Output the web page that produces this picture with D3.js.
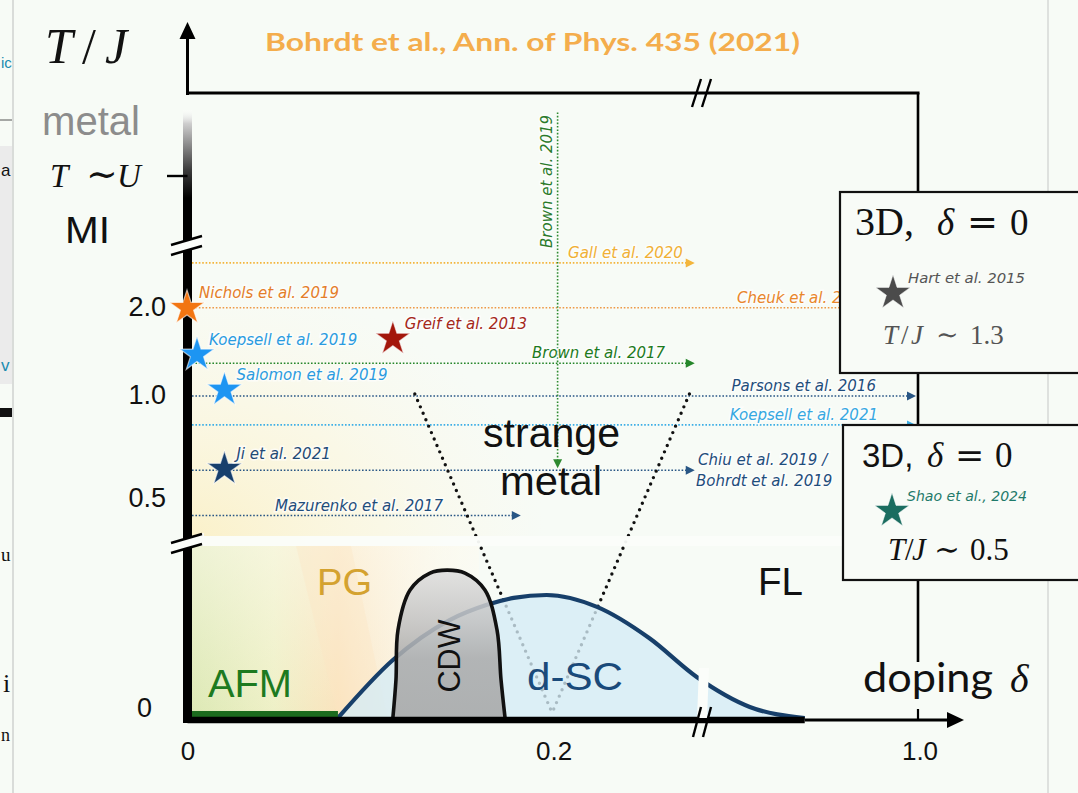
<!DOCTYPE html>
<html><head><meta charset="utf-8">
<script src="https://cdn.jsdelivr.net/npm/d3@7"></script>
<style>
html,body{margin:0;padding:0;background:#f7fbf6;}
svg{display:block;}
</style></head><body>
<svg id="chart" width="1078" height="793"></svg>
<script>
// ---- data -------------------------------------------------------------
// cold-atom experiments shown as stars: doping δ and temperature T/J
const starNames  = ["Nichols et al. 2019", "Koepsell et al. 2019", "Greif et al. 2013", "Salomon et al. 2019", "Ji et al. 2021"];
const starDoping = [0, 0.006, 0.113, 0.021, 0.021];
const starTemp   = [2.0, 1.47, 1.65, 1.07, 0.646];
const starColors = ["#f27512", "#1d95f2", "#a3170b", "#1d95f2", "#173f6c"];
const starText   = ["#e47d2a", "#2a9be0", "#a4271a", "#2a9be0", "#1f4a75"];

// experiments scanning doping at fixed temperature (dotted arrows)
const traceNames  = [["Gall et al. 2020"], ["Cheuk et al. 2020"], ["Brown et al. 2017"], ["Parsons et al. 2016"],
                     ["Koepsell et al. 2021"], ["Chiu et al. 2019 /", "Bohrdt et al. 2019"], ["Mazurenko et al. 2017"]];
const traceTemp   = [2.49, 1.98, 1.35, 0.99, 0.85, 0.63, 0.41];
const traceEnd    = [0.279, 1.0, 0.279, 1.0, 1.0, 0.279, 0.184];
const traceColors = ["#f3b53c", "#ee9a48", "#25862a", "#285685", "#3caee6", "#285685", "#285685"];
const traceText   = ["#f0b035", "#e8862c", "#1d7a1d", "#1f4d7c", "#36a8e2", "#1f4d7c", "#1f4d7c"];

// experiment scanning temperature at fixed doping
const vTraceName = "Brown et al. 2019";
const vTraceDoping = 0.203;
const vTraceTemp = [4.2, 0.64];

// d-wave superconducting dome (δ, relative T)
const scDoping = [0.083, 0.113, 0.144, 0.164, 0.179, 0.197, 0.2245, 0.253, 0.279, 0.308, 0.338];
const scTemp   = [0, 0.335, 0.566, 0.653, 0.694, 0.711, 0.642, 0.462, 0.237, 0.064, 0];

// charge density wave dome
const cdwDoping = [0.113, 0.1147, 0.1158, 0.1224, 0.1333, 0.1426, 0.1524, 0.1633, 0.1699, 0.1721, 0.1743];
const cdwTemp   = [0, 0.22, 0.509, 0.74, 0.838, 0.855, 0.838, 0.74, 0.509, 0.22, 0];

// antiferromagnet at low doping
const afmDoping = [0, 0.083];

// strange-metal fan: upper ends (T/J) and vertex (relative T)
const fanDoping = [0.125, 0.275];
const fanTopTemp = 1.0;
const fanVertex = {doping: 0.2, temp: 0.03};

// axis ticks
const yTicks = [0.5, 1.0, 2.0];
const yTickLabels = ["0.5", "1.0", "2.0"];
const xTicks = [0, 0.2, 1.0];
const xTickLabels = ["0", "0.2", "1.0"];

// 3D insets
const insetNames = ["Hart et al. 2015", "Shao et al., 2024"];
const insetTemp = ["1.3", "0.5"];
const insetColors = ["#4b4b4b", "#1b6d60"];

// ---- scales -----------------------------------------------------------
const x = d3.scaleLinear().domain([0, 0.36, 1.0]).range([186, 845, 918]);
const yT = d3.scaleLinear().domain([0.5, 1.0, 2.0]).range([497, 394, 306]);
const yLow = d3.scaleLinear().domain([0, 1]).range([718, 545]);

const svg = d3.select("#chart");
const defs = svg.append("defs");
const SANS = "'Liberation Sans', Arial, sans-serif";
const SERIF = "'Liberation Serif', 'DejaVu Serif', serif";
const OPS = "'DejaVu Serif', serif";
const LAB = "'DejaVu Sans', sans-serif";

svg.append("rect").attr("width", 1078).attr("height", 793).attr("fill", "#f7fbf6");

// edge of the neighbouring slide
const strip = svg.append("g");
strip.append("rect").attr("x", 0).attr("y", 146).attr("width", 12).attr("height", 238).attr("fill", "#ebebeb");
strip.append("line").attr("x1", 0).attr("x2", 12).attr("y1", 120).attr("y2", 120).attr("stroke", "#555").attr("stroke-width", 1);
strip.append("rect").attr("x", 0).attr("y", 408).attr("width", 12).attr("height", 9).attr("fill", "#111");
[["ic", 1, 68, "#1a8cb0", SANS, 15], ["a", 1, 176, "#111", SANS, 17], ["v", 1, 371, "#1a8cb0", SANS, 17],
 ["u", 1, 561, "#111", SERIF, 19], ["i", 3, 692, "#111", SERIF, 26], ["n", 1, 741, "#111", SERIF, 18]]
  .forEach(f => strip.append("text").text(f[0]).attr("x", f[1]).attr("y", f[2]).attr("fill", f[3])
    .attr("font-family", f[4]).attr("font-size", f[5]));
strip.append("line").attr("x1", 13).attr("x2", 13).attr("y1", 0).attr("y2", 793).attr("stroke", "#cfd2cf").attr("stroke-width", 1.5);
svg.append("line").attr("x1", 1048).attr("x2", 1048).attr("y1", 0).attr("y2", 793).attr("stroke", "#d6d9d6").attr("stroke-width", 1.5);

// ---- background shading ---------------------------------------------
const upperGrad = defs.append("radialGradient").attr("id", "upperGrad")
  .attr("gradientUnits", "userSpaceOnUse").attr("cx", x(0)).attr("cy", yLow(1)).attr("r", 360)
  .attr("gradientTransform", `translate(${x(0)},${yLow(1)}) scale(1,0.75) translate(${-x(0)},${-yLow(1)})`);
upperGrad.append("stop").attr("offset", 0).attr("stop-color", "#fbefc2").attr("stop-opacity", 0.9);
upperGrad.append("stop").attr("offset", 0.55).attr("stop-color", "#fcf6dc").attr("stop-opacity", 0.6);
upperGrad.append("stop").attr("offset", 1).attr("stop-color", "#fcf8e8").attr("stop-opacity", 0);
svg.append("rect").attr("x", x(0)).attr("y", yT(2.2)).attr("width", 420).attr("height", yLow(1) - yT(2.2))
  .attr("fill", "url(#upperGrad)");

const lowGrad = defs.append("linearGradient").attr("id", "lowGrad").attr("x1", 0).attr("x2", 1).attr("y1", 0).attr("y2", 0);
[[0, "#dbe8b3", 1], [0.3, "#eef0c6", 1], [0.52, "#fae3bd", 1], [0.7, "#fbecd2", 0.8], [1, "#fbf5e6", 0]]
  .forEach(s => lowGrad.append("stop").attr("offset", s[0]).attr("stop-color", s[1]).attr("stop-opacity", s[2]));
svg.append("rect").attr("x", x(0)).attr("y", yLow(1)).attr("width", x(0.16) - x(0)).attr("height", yLow(0) - yLow(1))
  .attr("fill", "url(#lowGrad)");
const lowFade = defs.append("linearGradient").attr("id", "lowFade").attr("x1", 0).attr("x2", 0).attr("y1", 0).attr("y2", 1);
lowFade.append("stop").attr("offset", 0).attr("stop-color", "#fdfbf0").attr("stop-opacity", 0.55);
lowFade.append("stop").attr("offset", 1).attr("stop-color", "#fdfbf0").attr("stop-opacity", 0);
svg.append("rect").attr("x", x(0)).attr("y", yLow(1)).attr("width", x(0.16) - x(0)).attr("height", yLow(0) - yLow(1))
  .attr("fill", "url(#lowFade)");
// AFM / PG crossover
svg.append("path").attr("d", d3.line()([[x(0.06), yLow(1)], [x(0.083), yLow(0)], [x(0.11), yLow(0)], [x(0.09), yLow(1)]]))
  .attr("fill", "#fbe6c4").attr("opacity", 0.35);

// ---- dotted doping traces --------------------------------------------
const traceLabelAt = [0.2087, 0.301, 0.189, 0.298, 0.297, 0.2797, 0.0486];
const tr = svg.append("g");
traceTemp.forEach((t, i) => {
  const yy = yT(t), xe = x(traceEnd[i]) - 2;
  tr.append("line").attr("x1", x(0) + 6).attr("x2", xe - 6).attr("y1", yy).attr("y2", yy)
    .attr("stroke", traceColors[i]).attr("stroke-width", 1.6).attr("stroke-dasharray", "1.6 1.8");
  tr.append("path").attr("d", `M${xe - 9},${yy - 4.5}L${xe},${yy}L${xe - 9},${yy + 4.5}Z`).attr("fill", traceColors[i]);
});

// temperature trace
const vx = x(vTraceDoping);
tr.append("line").attr("x1", vx).attr("x2", vx).attr("y1", yT(vTraceTemp[0])).attr("y2", yT(vTraceTemp[1]) - 8)
  .attr("stroke", "#2f8a30").attr("stroke-width", 1.6).attr("stroke-dasharray", "1.6 1.8");
tr.append("path").attr("d", `M${vx - 4.5},${yT(vTraceTemp[1]) - 9}L${vx},${yT(vTraceTemp[1])}L${vx + 4.5},${yT(vTraceTemp[1]) - 9}Z`)
  .attr("fill", "#2f8a30");

// ---- strange-metal fan -----------------------------------------------
const vtx = [x(fanVertex.doping), yLow(fanVertex.temp)];
fanDoping.forEach(d => {
  svg.append("line").attr("x1", x(d)).attr("y1", yT(fanTopTemp)).attr("x2", vtx[0]).attr("y2", vtx[1])
    .attr("stroke", "#111").attr("stroke-width", 3.4).attr("stroke-linecap", "round").attr("stroke-dasharray", "0 7");
});

// axis break band
svg.append("rect").attr("x", x(0)).attr("y", yLow(1) - 9).attr("width", x(1.0) - x(0)).attr("height", 10)
  .attr("fill", "#fbfdfa").attr("opacity", 0.95);

// ---- d-SC dome --------------------------------------------------------
const scPts = scDoping.map((d, i) => [x(d), yLow(scTemp[i])]);
const scLine = d3.line().curve(d3.curveMonotoneX);
svg.append("path").attr("d", scLine(scPts) + "Z").attr("fill", "#d5ecf6").attr("opacity", 0.78);
svg.append("path").attr("d", scLine(scPts)).attr("fill", "none").attr("stroke", "#173f6a").attr("stroke-width", 4.2);

// ---- CDW --------------------------------------------------------------
const cdwGrad = defs.append("linearGradient").attr("id", "cdwGrad").attr("x1", 0).attr("x2", 0).attr("y1", 0).attr("y2", 1);
[[0, "#dedede"], [0.35, "#c2c2c2"], [0.6, "#ababab"], [1, "#a6a6a6"]]
  .forEach(s => cdwGrad.append("stop").attr("offset", s[0]).attr("stop-color", s[1]));
const cdwPts = cdwDoping.map((d, i) => [x(d), yLow(cdwTemp[i])]);
const cdwLine = d3.line().curve(d3.curveCatmullRom.alpha(0.5));
svg.append("path").attr("d", cdwLine(cdwPts) + "Z").attr("fill", "url(#cdwGrad)").attr("opacity", 0.86);
svg.append("path").attr("d", cdwLine(cdwPts)).attr("fill", "none").attr("stroke", "#111").attr("stroke-width", 3.6);

// ---- AFM --------------------------------------------------------------
svg.append("rect").attr("x", x(afmDoping[0])).attr("y", yLow(0) - 7).attr("width", x(afmDoping[1]) - x(afmDoping[0])).attr("height", 8)
  .attr("fill", "#1c6b1e");

// ---- axes -------------------------------------------------------------
const ax = svg.append("g");
const x0 = x(0) + 1.5;
// x axis
ax.append("line").attr("x1", x0).attr("x2", x(scDoping[scDoping.length - 1])).attr("y1", 720).attr("y2", 720)
  .attr("stroke", "#000").attr("stroke-width", 6.5);
ax.append("line").attr("x1", x(scDoping[scDoping.length - 1])).attr("x2", 950).attr("y1", 720).attr("y2", 720)
  .attr("stroke", "#000").attr("stroke-width", 3);
ax.append("path").attr("d", "M947,712L964,720L947,728Z").attr("fill", "#000");
ax.append("line").attr("x1", x(1.0)).attr("x2", x(1.0)).attr("y1", 709).attr("y2", 720).attr("stroke", "#000").attr("stroke-width", 2.2);
// x axis break
ax.append("path").attr("d", "M699,668L709,668L707,718L697,718Z").attr("fill", "#fbfdfa");
[[693, 737, 701, 707], [703, 737, 711, 707]].forEach(l =>
  ax.append("line").attr("x1", l[0]).attr("y1", l[1]).attr("x2", l[2]).attr("y2", l[3]).attr("stroke", "#000").attr("stroke-width", 2.4));

// y axis (thick part)
ax.append("line").attr("x1", x0).attr("x2", x0).attr("y1", 215).attr("y2", 723).attr("stroke", "#000").attr("stroke-width", 9);
const axGrad = defs.append("linearGradient").attr("id", "axGrad").attr("x1", 0).attr("x2", 0).attr("y1", 0).attr("y2", 1);
[[0, "#ffffff", 0.2], [0.12, "#cfcfcf", 1], [0.55, "#3a3a3a", 1], [0.8, "#000", 1], [1, "#000", 1]]
  .forEach(s => axGrad.append("stop").attr("offset", s[0]).attr("stop-color", s[1]).attr("stop-opacity", s[2]));
ax.append("rect").attr("x", x0 - 4.5).attr("y", 110).attr("width", 9).attr("height", 110).attr("fill", "url(#axGrad)");
// T ~ U tick
ax.append("line").attr("x1", 167).attr("x2", x0).attr("y1", 176).attr("y2", 176).attr("stroke", "#000").attr("stroke-width", 2.4);
// y axis breaks
[243, yLow(1) - 4].forEach(yc => {
  ax.append("path").attr("d", `M170,${yc + 2}L204,${yc - 8}L204,${yc + 2}L170,${yc + 12}Z`).attr("fill", "#fbfdfa");
  ax.append("line").attr("x1", 171).attr("y1", yc + 2).attr("x2", 202).attr("y2", yc - 7).attr("stroke", "#000").attr("stroke-width", 2.4);
  ax.append("line").attr("x1", 171).attr("y1", yc + 12).attr("x2", 202).attr("y2", yc + 3).attr("stroke", "#000").attr("stroke-width", 2.4);
});
// thin top part with arrow
ax.append("line").attr("x1", x0).attr("x2", x0).attr("y1", 36).attr("y2", 95).attr("stroke", "#000").attr("stroke-width", 3);
ax.append("path").attr("d", `M${x0 - 8},39L${x0},22L${x0 + 8},39Z`).attr("fill", "#000");
// frame of the high-temperature region
ax.append("line").attr("x1", x0 - 1.5).attr("x2", x(1.0) + 1.5).attr("y1", 93).attr("y2", 93).attr("stroke", "#000").attr("stroke-width", 3);
ax.append("line").attr("x1", x(1.0)).attr("x2", x(1.0)).attr("y1", 93).attr("y2", 662).attr("stroke", "#000").attr("stroke-width", 2.6);
[[692, 107, 701, 79], [702, 107, 711, 79]].forEach(l =>
  ax.append("line").attr("x1", l[0]).attr("y1", l[1]).attr("x2", l[2]).attr("y2", l[3]).attr("stroke", "#000").attr("stroke-width", 2.4));

// tick labels
yTicks.forEach((t, i) => ax.append("text").text(yTickLabels[i]).attr("x", 166).attr("y", yT(t) + 10)
  .attr("text-anchor", "end").attr("font-family", SANS).attr("font-size", 27).attr("fill", "#111"));
ax.append("text").text("0").attr("x", 152).attr("y", yLow(0) - 1).attr("text-anchor", "end")
  .attr("font-family", SANS).attr("font-size", 27).attr("fill", "#111");
xTicks.forEach((t, i) => ax.append("text").text(xTickLabels[i]).attr("x", x(t) + 2).attr("y", 760)
  .attr("text-anchor", "middle").attr("font-family", SANS).attr("font-size", 26).attr("fill", "#111"));

// ---- region labels ----------------------------------------------------
function label(txt, xx, yy, size, color, len, fam) {
  const t = svg.append("text").text(txt).attr("x", xx).attr("y", yy).attr("font-family", fam || SANS)
    .attr("font-size", size).attr("fill", color);
  if (len) t.attr("textLength", len).attr("lengthAdjust", "spacingAndGlyphs");
  return t;
}
label("PG", 317, 595, 36, "#d4a22f", 55);
label("AFM", 208, 697, 38, "#1d7a1f", 84);
label("d-SC", 527, 690, 39, "#1a4a7a", 96);
label("FL", 758, 595, 38, "#111", 45);
label("strange", 483, 447, 40, "#111", 137);
label("metal", 500, 495, 40, "#111", 102);
svg.append("text").text("CDW").attr("transform", "translate(460,656) rotate(-90)").attr("text-anchor", "middle")
  .attr("font-family", SANS).attr("font-size", 31).attr("fill", "#111").attr("textLength", 73).attr("lengthAdjust", "spacingAndGlyphs");

label("metal", 42, 135, 40, "#8c8c8c", 98);
label("MI", 65, 243, 37, "#111", 45);

// math text built from pieces placed one after another
function mathText(parent, pieces, yy, size, color) {
  const t = parent.append("text").attr("y", yy).attr("font-family", SERIF).attr("font-size", size).attr("fill", color);
  pieces.forEach(p => {
    const s = t.append("tspan").text(p[0]).attr("x", p[1]);
    if (p[2]) s.attr("font-style", "italic");
    if (p[3]) s.attr("font-family", p[3]);
    if (p[4]) s.attr("font-size", p[4]);
  });
  return t;
}
mathText(svg, [["T", 45, 1], ["/", 82], ["J", 105, 1]], 63, 50, "#111");
mathText(svg, [["T", 50, 1], ["∼", 86, 0, OPS, 38], ["U", 117, 1]], 187, 33, "#111");

// ---- trace labels -----------------------------------------------------
function refLabel(txt, xx, yy, color, size) {
  return svg.append("text").text(txt).attr("x", xx).attr("y", yy).attr("font-family", LAB).attr("font-style", "italic")
    .attr("font-size", size || 15).attr("fill", color)
    .attr("stroke", "#ffffff").attr("stroke-width", 3).attr("stroke-opacity", 0.65).attr("paint-order", "stroke");
}
traceNames.forEach((lines, i) => {
  lines.forEach((ln, j) => refLabel(ln, x(traceLabelAt[i]) - 2 * j, yT(traceTemp[i]) - 5 + j * 21, traceText[i]));
});
refLabel(vTraceName, 0, 0, "#2a7a2a").attr("transform", `translate(${vx - 6},248) rotate(-90)`);

// ---- stars ------------------------------------------------------------
const star = d3.symbol().type(d3.symbolStar).size(370);
starNames.forEach((n, i) => {
  const sx = x(starDoping[i]) + (starDoping[i] === 0 ? 1 : 0), sy = yT(starTemp[i]);
  svg.append("path").attr("d", star()).attr("transform", `translate(${sx},${sy + 2})`)
    .attr("fill", starColors[i]).attr("stroke", "#ffffff").attr("stroke-opacity", 0.6).attr("stroke-width", 1.2);
  refLabel(n, sx + 12, sy - 8, starText[i]);
});

// ---- 3D insets --------------------------------------------------------
const boxes = [{x: 840, y: 192, h: 181}, {x: 843, y: 425, h: 155}];
boxes.forEach((b, i) => {
  const g = svg.append("g").attr("transform", `translate(${b.x},${b.y})`);
  g.append("rect").attr("width", 260).attr("height", b.h).attr("fill", "#f8fbf7").attr("stroke", "#111").attr("stroke-width", 2.2);
  if (i === 0) {
    mathText(g, [["3D,", 15, 0, 0, 40], ["δ", 97, 1], ["=", 127, 0, OPS], ["0", 170]], 43, 37, "#111");
  } else {
    mathText(g, [["3D,", 19, 0, SANS, 33], ["δ", 84, 1], ["=", 112, 0, OPS], ["0", 152]], 42, 35, "#111");
  }
  const sx = i === 0 ? 53 : 49, sy = i === 0 ? 99 : 84;
  g.append("path").attr("d", star()).attr("transform", `translate(${sx},${sy + 2})`).attr("fill", insetColors[i])
    .attr("stroke", "#ffffff").attr("stroke-opacity", 0.5).attr("stroke-width", 1);
  g.append("text").text(insetNames[i]).attr("x", sx + 15).attr("y", sy - 8).attr("font-family", LAB).attr("font-style", "italic")
    .attr("font-size", i === 0 ? 14.5 : 14).attr("fill", i === 0 ? "#555" : "#1f7a6a")
    .attr("textLength", i === 0 ? 117 : 120).attr("lengthAdjust", "spacingAndGlyphs");
  if (i === 0) {
    mathText(g, [["T", 43, 1], ["/", 61], ["J", 71, 1], ["∼", 96, 0, OPS], [insetTemp[i], 130]], 152, 27, "#545454");
  } else {
    mathText(g, [["T", 45, 1], ["/", 62], ["J", 69, 1], ["∼", 91, 0, OPS], [insetTemp[i], 127]], 135, 31, "#111");
  }
});

// ---- axis title and heading ------------------------------------------
label("doping", 863, 692, 40, "#111", 130, "Lato, 'Open Sans', sans-serif");
svg.append("text").text("δ").attr("x", 1010).attr("y", 692).attr("font-family", SERIF).attr("font-style", "italic")
  .attr("font-size", 40).attr("fill", "#111");

label("Bohrdt et al., Ann. of Phys. 435 (2021)", 265, 51, 24, "#f4ad4c", 535, "Lato, 'Open Sans', sans-serif")
  .attr("font-weight", 700);
</script>
</body></html>
